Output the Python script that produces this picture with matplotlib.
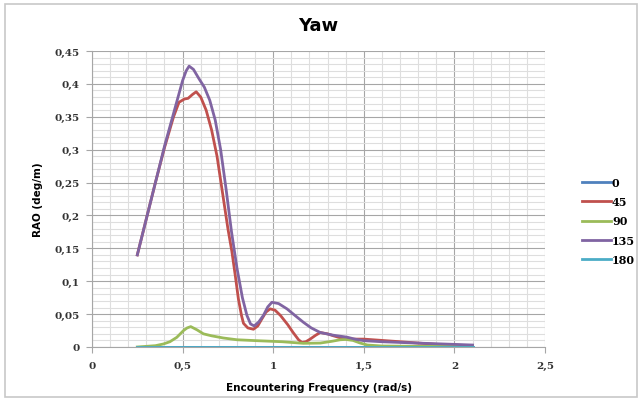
import matplotlib.pyplot as plt
from matplotlib.ticker import MultipleLocator, FuncFormatter
from matplotlib.patches import Rectangle

# values
freq_flat = [0.25, 2.1]
rao_0 = [0.0, 0.0]
rao_180 = [0.0, 0.0]

freq_45 = [0.25, 0.30, 0.35, 0.40, 0.45, 0.48, 0.51, 0.53, 0.555, 0.575, 0.60, 0.63,
           0.66, 0.69, 0.72, 0.75, 0.772, 0.79, 0.808, 0.825, 0.836, 0.86, 0.891, 0.915,
           0.937, 0.96, 0.983, 1.01, 1.04, 1.08, 1.11, 1.14, 1.158, 1.18, 1.204,
           1.235, 1.26, 1.30, 1.333, 1.37, 1.407, 1.45, 1.5, 1.55, 1.6, 1.7, 1.8,
           1.9, 1.98, 2.1]
rao_45 = [0.14, 0.195, 0.25, 0.303, 0.35, 0.372, 0.377, 0.378, 0.384, 0.388, 0.38, 0.36,
          0.33, 0.29, 0.235, 0.18, 0.145, 0.11, 0.073, 0.048, 0.036, 0.029, 0.027, 0.032,
          0.0425, 0.053, 0.058, 0.056, 0.048, 0.034, 0.022, 0.011, 0.007, 0.008, 0.012,
          0.018, 0.022, 0.02, 0.017, 0.014, 0.012, 0.012, 0.012, 0.011, 0.01, 0.008, 0.006,
          0.004, 0.003, 0.002]

freq_90 = [0.25, 0.30, 0.35, 0.394, 0.43, 0.468, 0.505, 0.525, 0.545, 0.58, 0.615,
           0.66, 0.725, 0.80, 0.91, 1.05, 1.167, 1.26, 1.32, 1.37, 1.40, 1.44, 1.48,
           1.52, 1.6, 1.8, 2.1]
rao_90 = [0.0, 0.001, 0.002, 0.0046, 0.008, 0.0147, 0.025, 0.029, 0.031, 0.026, 0.020,
          0.017, 0.0137, 0.011, 0.0096, 0.008, 0.0056, 0.006, 0.0085, 0.011, 0.0115,
          0.01, 0.006, 0.003, 0.0015, 0.001, 0.001]

freq_135 = [0.25, 0.30, 0.35, 0.40, 0.45, 0.50, 0.52, 0.536, 0.56, 0.59, 0.62,
            0.65, 0.68, 0.71, 0.74, 0.77, 0.80, 0.83, 0.855, 0.875, 0.895, 0.92,
            0.946, 0.97, 0.993, 1.03, 1.076, 1.12, 1.167, 1.21, 1.26, 1.33, 1.407,
            1.45, 1.5, 1.6, 1.79, 2.0, 2.1]
rao_135 = [0.14, 0.195, 0.25, 0.305, 0.355, 0.405, 0.42, 0.427, 0.422, 0.408, 0.395,
           0.375, 0.345, 0.30, 0.24, 0.175, 0.12, 0.075, 0.048, 0.035, 0.032, 0.038,
           0.048, 0.061, 0.068, 0.066, 0.058, 0.048, 0.0375, 0.029, 0.022, 0.018, 0.015,
           0.012, 0.0096, 0.008, 0.006, 0.004, 0.003]

series_labels = ["0", "45", "90", "135", "180"]
series_colors = ["#4F81BD", "#C0504D", "#9BBB59", "#8064A2", "#4BACC6"]

fig = plt.figure(figsize=(6.4, 4.02), dpi=100)
ax = fig.add_axes([92 / 640, 54 / 402, 453 / 640, 296 / 402])

# light frame around the whole chart
fig.patches.append(Rectangle((5 / 640, 4 / 402), 632 / 640, 393 / 402, transform=fig.transFigure,
                             fill=False, edgecolor="#c8c8c8", linewidth=1.2))

xs = [freq_flat, freq_45, freq_90, freq_135, freq_flat]
ys = [rao_0, rao_45, rao_90, rao_135, rao_180]
for x, y, lab, col in zip(xs, ys, series_labels, series_colors):
    ax.plot(x, y, color=col, lw=2.0, label=lab, solid_joinstyle="round", zorder=3)

ax.set_xlim(0, 2.5)
ax.set_ylim(0, 0.45)
ax.xaxis.set_major_locator(MultipleLocator(0.5))
ax.xaxis.set_minor_locator(MultipleLocator(0.1))
ax.yaxis.set_major_locator(MultipleLocator(0.05))
ax.yaxis.set_minor_locator(MultipleLocator(0.01))

comma = FuncFormatter(lambda v, p: ("%g" % round(v, 3)).replace(".", ","))
ax.xaxis.set_major_formatter(comma)
ax.yaxis.set_major_formatter(comma)

ax.grid(which="major", color="#a6a6a6", lw=0.8)
ax.grid(which="minor", color="#dedede", lw=0.8)
ax.set_axisbelow(True)
for s in ["top", "right"]:
    ax.spines[s].set_visible(False)
ax.spines["left"].set_color("#a6a6a6")
ax.spines["bottom"].set_color("#a6a6a6")
ax.tick_params(which="both", length=0)
ax.tick_params(axis="x", which="major", length=4, color="#a6a6a6", pad=6)
ax.tick_params(axis="y", which="major", length=4, color="#a6a6a6", pad=5)
for t in ax.get_xticklabels() + ax.get_yticklabels():
    t.set_fontfamily("DejaVu Serif")
    t.set_fontweight("bold")
    t.set_fontsize(7.5)
    t.set_color("#333333")

ax.set_title("Yaw", fontsize=13, fontweight="bold", pad=15)
ax.set_xlabel("Encountering Frequency (rad/s)", fontsize=7.5, fontweight="bold", labelpad=9)
ax.set_ylabel("RAO (deg/m)", fontsize=7.5, fontweight="bold", labelpad=8)

fig.legend(loc="center left", bbox_to_anchor=(572 / 640, 1 - 222 / 402), frameon=False,
           prop={"family": "DejaVu Serif", "weight": "bold", "size": 8},
           handlelength=2.6, handletextpad=0.1, labelspacing=0.75)

fig.savefig("out.png", dpi=100)
